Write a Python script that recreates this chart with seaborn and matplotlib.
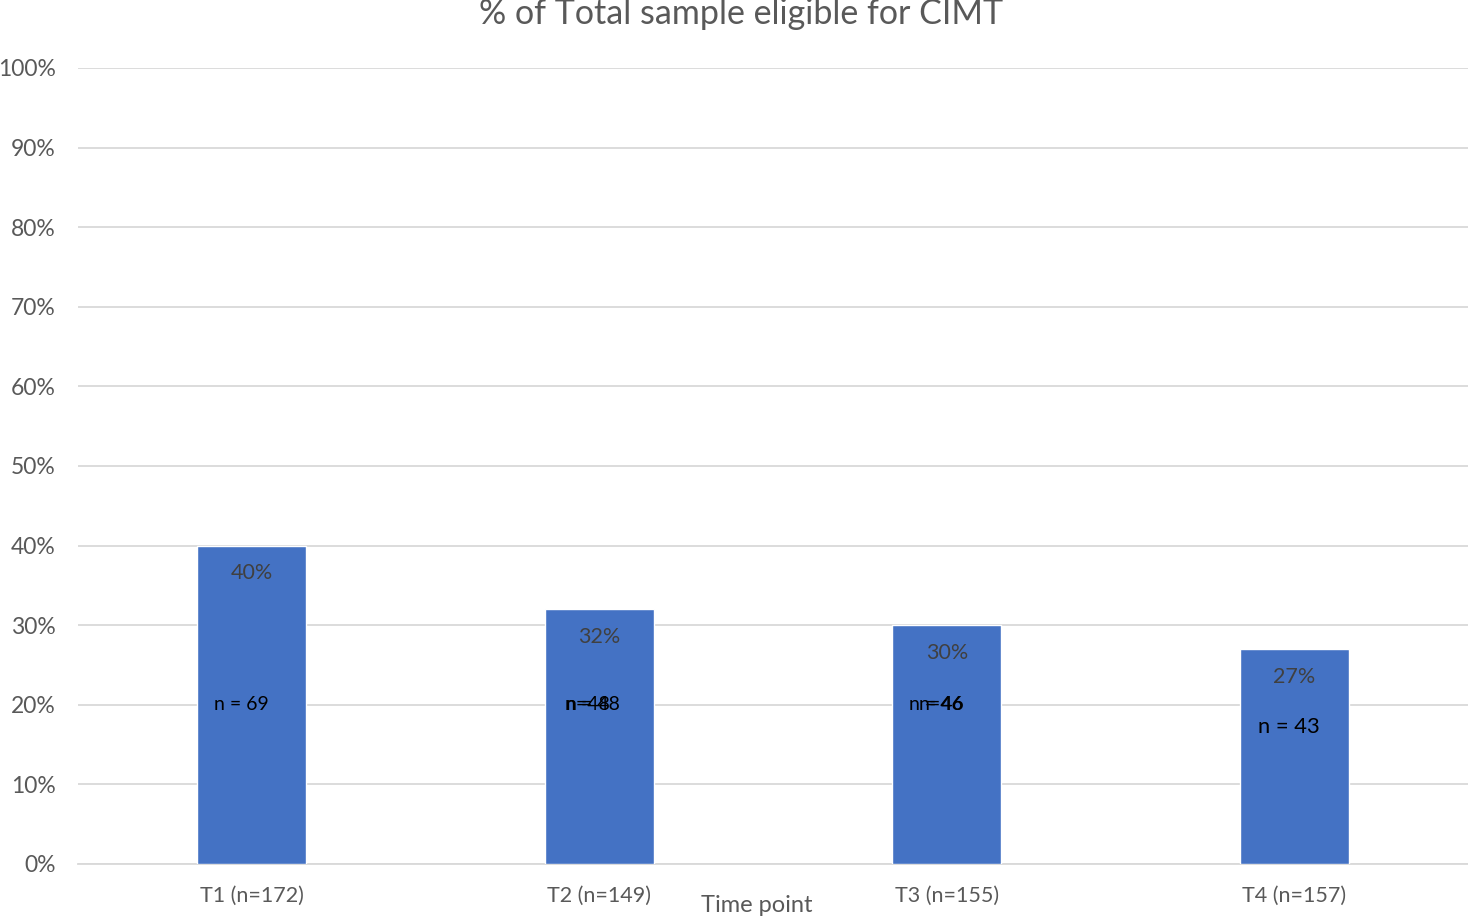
import matplotlib
matplotlib.use("Agg")
import matplotlib.pyplot as plt
import seaborn as sns
import pandas as pd
from matplotlib.ticker import PercentFormatter

# Eligibility share per time point
categories = ["T1 (n=172)", "T2 (n=149)", "T3 (n=155)", "T4 (n=157)"]
pct_eligible = [0.40, 0.32, 0.30, 0.27]
n_eligible = [69, 48, 46, 43]

sns.set_theme(style="white")
plt.rcParams["font.family"] = ["Lato", "DejaVu Sans"]

df = pd.DataFrame({"time": categories, "pct": pct_eligible})

fig = plt.figure(figsize=(14.68, 9.16), dpi=100)
ax = fig.add_axes([78 / 1468, 52 / 916, 1 - 78 / 1468, 796 / 916])

sns.barplot(data=df, x="time", y="pct", color="#4472C4", width=0.313,
            saturation=1, ax=ax, zorder=3)

ax.set_xlim(-0.5, 3.5)
ax.set_ylim(0, 1.0)
ax.set_yticks([i / 10 for i in range(11)])
ax.yaxis.set_major_formatter(PercentFormatter(1.0, decimals=0))
ax.grid(axis="y", color="#D9D9D9", linewidth=1.3, zorder=0)
ax.tick_params(axis="y", length=0, pad=16, labelsize=16.5, labelcolor="#595959")
ax.tick_params(axis="x", length=0, pad=16, labelsize=15.5, labelcolor="#595959")
for s in ["top", "right", "left"]:
    ax.spines[s].set_visible(False)
ax.spines["bottom"].set_color("#D9D9D9")
ax.spines["bottom"].set_linewidth(1.3)
ax.set_ylabel("")
ax.set_xlabel("")

fig.text(757 / 1468, 1 - 906 / 916, "Time point", ha="center", va="center",
         fontsize=17, color="#595959")

# Percentage labels just inside the bar tops
for i, v in enumerate(pct_eligible):
    ax.text(i, v - 0.035, f"{v:.0%}", ha="center", va="center",
            fontsize=15.5, color="#404040", zorder=4)

# Count labels
ax.text(-0.03, 0.20, f"n = {n_eligible[0]}", ha="center", va="center",
        fontsize=14, color="black", zorder=4)
ax.text(0.902, 0.20, f"n={n_eligible[1]}", ha="left", va="center",
        fontsize=14, color="black", zorder=4)
ax.text(0.902, 0.20, f"n = {n_eligible[1]}", ha="left", va="center",
        fontsize=14, color="black", zorder=4)
ax.text(2.049, 0.20, f"n={n_eligible[2]}", ha="right", va="center",
        fontsize=14, color="black", zorder=4)
ax.text(2.049, 0.20, f"n = {n_eligible[2]}", ha="right", va="center",
        fontsize=14, color="black", zorder=4)
ax.text(2.985, 0.172, f"n = {n_eligible[3]}", ha="center", va="center",
        fontsize=15.8, color="black", zorder=4)

fig.text(741 / 1468, 1 - 14 / 916, "% of Total sample eligible for CIMT",
         ha="center", va="center", fontsize=24.5, color="#595959")

fig.savefig("out.png", dpi=100)
